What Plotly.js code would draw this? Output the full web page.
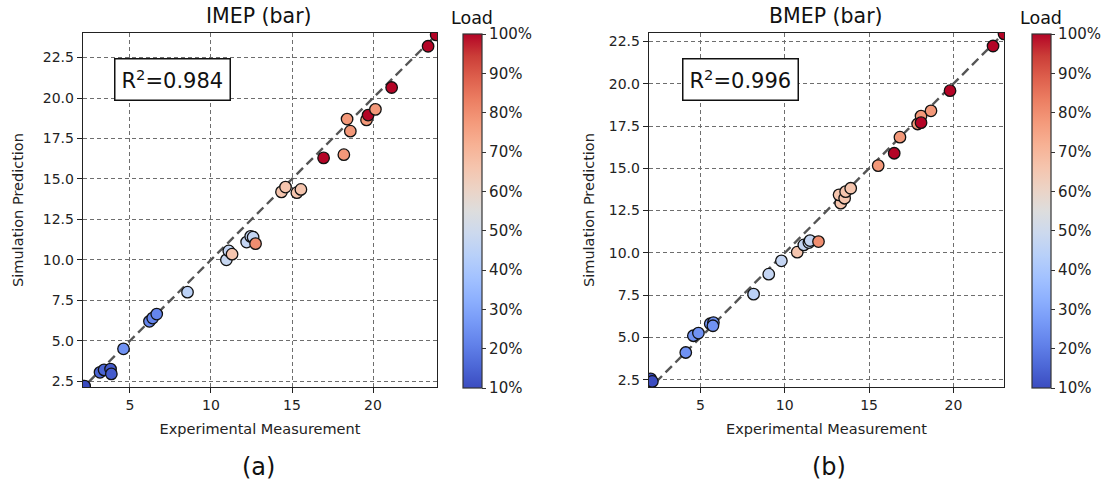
<!DOCTYPE html>
<html>
<head>
<meta charset="utf-8">
<script src="https://cdn.plot.ly/plotly-3.0.1.min.js"></script>
<style>html,body{margin:0;padding:0;background:#fff;}#chart{width:1113px;height:488px;}</style>
</head>
<body>
<div id="chart"></div>
<script>
// IMEP (a)
var imepExp = [2.2, 3.15, 3.4, 3.8, 3.85, 4.6, 6.2, 6.4, 6.65, 8.55, 10.95, 11.1, 11.3, 12.2, 12.45, 12.6, 12.75, 14.35, 14.6, 15.3, 15.55, 16.95, 18.2, 18.4, 18.6, 19.6, 19.7, 20.15, 21.15, 23.4, 23.9];
var imepSim = [2.2, 3.05, 3.2, 3.25, 2.95, 4.5, 6.2, 6.4, 6.65, 8.0, 10.0, 10.55, 10.35, 11.1, 11.45, 11.4, 11.0, 14.2, 14.5, 14.15, 14.35, 16.3, 16.5, 18.7, 17.95, 18.65, 18.95, 19.3, 20.65, 23.2, 23.9];
var imepLoad = [10, 15, 15, 13, 13, 25, 22, 22, 22, 45, 48, 47, 66, 47, 47, 47, 80, 66, 66, 66, 66, 100, 78, 78, 78, 78, 100, 78, 100, 100, 100];
// BMEP (b)
var bmepExp = [2.05, 2.15, 4.13, 4.58, 4.88, 5.58, 5.77, 5.74, 8.15, 9.05, 9.8, 10.74, 11.13, 11.43, 11.5, 12.0, 13.32, 13.22, 13.55, 13.61, 13.91, 15.54, 16.49, 16.83, 17.88, 18.08, 18.08, 18.67, 19.8, 22.35, 23.0];
var bmepSim = [2.55, 2.4, 4.11, 5.1, 5.26, 5.81, 5.88, 5.69, 7.56, 8.74, 9.53, 10.04, 10.47, 10.61, 10.73, 10.67, 12.94, 13.43, 13.23, 13.62, 13.82, 15.16, 15.89, 16.84, 17.62, 18.09, 17.7, 18.4, 19.59, 22.23, 22.95];
var bmepLoad = [10, 10, 25, 25, 25, 25, 25, 25, 45, 47, 47, 66, 47, 47, 47, 80, 66, 66, 66, 66, 66, 78, 100, 78, 78, 78, 100, 78, 100, 100, 100];

var panelTitles = ['IMEP (bar)', 'BMEP (bar)'];
var r2Labels = ['R<sup>2</sup>=0.984', 'R<sup>2</sup>=0.996'];
var panelLabels = ['(a)', '(b)'];
var xTitle = 'Experimental Measurement';
var yTitle = 'Simulation Prediction';
var cbTitle = 'Load';

var coolwarm = [
  [0.0, 'rgb(59,76,192)'], [0.0625, 'rgb(77,104,215)'], [0.125, 'rgb(98,130,234)'],
  [0.1875, 'rgb(119,154,247)'], [0.25, 'rgb(141,176,254)'], [0.3125, 'rgb(163,194,255)'],
  [0.375, 'rgb(184,208,249)'], [0.4375, 'rgb(204,217,238)'], [0.5, 'rgb(221,221,221)'],
  [0.5625, 'rgb(236,211,197)'], [0.625, 'rgb(245,196,173)'], [0.6875, 'rgb(247,177,148)'],
  [0.75, 'rgb(244,154,123)'], [0.8125, 'rgb(236,127,99)'], [0.875, 'rgb(222,96,77)'],
  [0.9375, 'rgb(203,62,56)'], [1.0, 'rgb(180,4,38)']
];

var FONT = 'DejaVu Sans, sans-serif';
var W = 1113, H = 488;

function cb(xpx) {
  return {
    x: xpx / W, xanchor: 'left', xref: 'paper',
    y: (H - 388) / H, yanchor: 'bottom', len: (388 - 34) / H, lenmode: 'fraction',
    thickness: 19, thicknessmode: 'pixels',
    outlinewidth: 1.2, outlinecolor: '#333',
    tickmode: 'linear', tick0: 10, dtick: 10, ticksuffix: '%',
    ticks: 'outside', ticklen: 4, tickcolor: '#333',
    tickfont: {family: FONT, size: 15, color: '#222'},
    bgcolor: 'rgba(0,0,0,0)', borderwidth: 0, xpad: 0, ypad: 0
  };
}

function scatter(xs, ys, loads, xa, ya, cbx) {
  return {
    type: 'scatter', mode: 'markers', x: xs, y: ys, xaxis: xa, yaxis: ya,
    marker: {
      size: 11.5, color: loads, colorscale: coolwarm, cmin: 10, cmax: 100,
      line: {color: '#111', width: 1.3}, showscale: true, colorbar: cb(cbx)
    },
    hoverinfo: 'x+y', showlegend: false
  };
}

function diag(xa, ya) {
  return {
    type: 'scatter', mode: 'lines', x: [0, 30], y: [0, 30], xaxis: xa, yaxis: ya,
    line: {color: '#555', width: 2.4, dash: '9px,5px'}, hoverinfo: 'skip', showlegend: false
  };
}

var data = [
  diag('x', 'y'),
  scatter(imepExp, imepSim, imepLoad, 'x', 'y', 463),
  diag('x2', 'y2'),
  scatter(bmepExp, bmepSim, bmepLoad, 'x2', 'y2', 1032)
];

function xaxis(dom, rng, anchor) {
  return {
    domain: dom, range: rng, anchor: anchor,
    tickmode: 'linear', tick0: 0, dtick: 5,
    showline: true, linecolor: '#222', linewidth: 1.3, mirror: true,
    ticks: 'outside', ticklen: 5, tickcolor: '#222',
    showgrid: true, gridcolor: '#6e6e6e', griddash: '4px,3px', gridwidth: 1,
    zeroline: false,
    tickfont: {family: FONT, size: 14, color: '#222'},
    title: {text: xTitle, font: {family: FONT, size: 14.5, color: '#222'}, standoff: 11}
  };
}
function yaxis(dom, rng, anchor, so) {
  return {
    domain: dom, range: rng, anchor: anchor,
    tickmode: 'linear', tick0: 0, dtick: 2.5, tickformat: '.1f',
    showline: true, linecolor: '#222', linewidth: 1.3, mirror: true,
    ticks: 'outside', ticklen: 5, tickcolor: '#222',
    showgrid: true, gridcolor: '#6e6e6e', griddash: '4px,3px', gridwidth: 1,
    zeroline: false,
    tickfont: {family: FONT, size: 14, color: '#222'},
    title: {text: yTitle, font: {family: FONT, size: 14.5, color: '#222'}, standoff: so}
  };
}

function ann(text, xpx, ypx, size, extra) {
  var a = {text: text, x: xpx / W, y: 1 - ypx / H, xref: 'paper', yref: 'paper',
    xanchor: 'center', yanchor: 'middle', showarrow: false,
    font: {family: FONT, size: size, color: '#111'}};
  if (extra) { for (var k in extra) a[k] = extra[k]; }
  return a;
}

var ydom = [(H - 387) / H, (H - 33) / H];
var boxStyle = {bordercolor: '#111', borderwidth: 1.5, borderpad: 6, bgcolor: '#fff'};
var layout = {
  width: W, height: H,
  margin: {l: 0, r: 0, t: 0, b: 0},
  paper_bgcolor: '#fff', plot_bgcolor: '#fff',
  font: {family: FONT, color: '#222'},
  xaxis: xaxis([83 / W, 437 / W], [2.1, 23.95], 'y'),
  yaxis: yaxis(ydom, [2.14, 24.02], 'x', 15),
  xaxis2: xaxis([649 / W, 1004 / W], [1.95, 23.0], 'y2'),
  yaxis2: yaxis(ydom, [2.07, 23.0], 'x2', 10),
  annotations: [
    ann(panelTitles[0], 259, 16, 20.5),
    ann(panelTitles[1], 826, 16, 20.5),
    ann(cbTitle, 472, 18, 17.5),
    ann(cbTitle, 1041, 18, 17.5),
    ann(r2Labels[0], 172, 80, 21, boxStyle),
    ann(r2Labels[1], 740, 80, 21, boxStyle),
    ann(panelLabels[0], 258, 467, 24),
    ann(panelLabels[1], 829, 467, 24)
  ]
};

Plotly.newPlot('chart', data, layout, {displayModeBar: false, staticPlot: true});
</script>
</body>
</html>
